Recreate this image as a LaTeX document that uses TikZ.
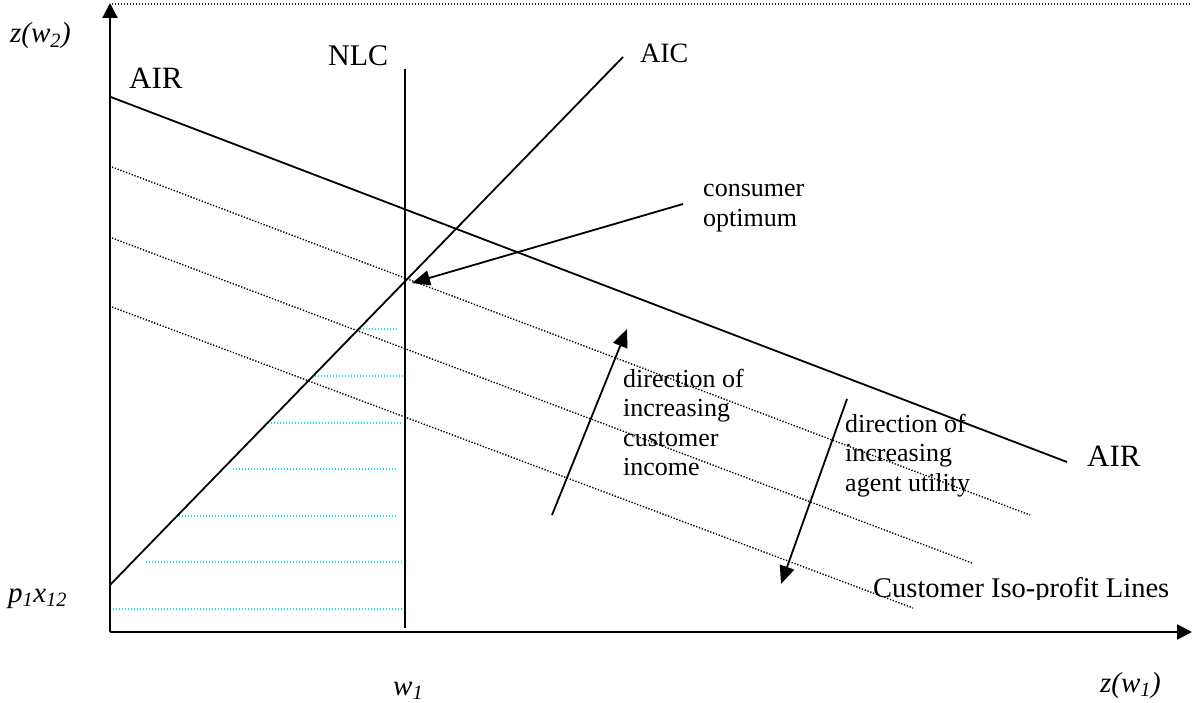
\documentclass[tikz,border=0pt]{standalone}
\usepackage{fontspec}
\setmainfont{Liberation Serif}
\usetikzlibrary{arrows.meta}
\definecolor{hatchcyan}{RGB}{0,235,245}
\begin{document}
\begin{tikzpicture}[x=1pt,y=-1pt,
  line/.style={line width=1.8pt},
  axis/.style={line width=2pt, -{Triangle[length=15pt,width=15pt]}},
  iso/.style={line width=1.4pt, dash pattern=on 1.3pt off 1.7pt},
  topdot/.style={line width=1.2pt, black!85, dash pattern=on 1.1pt off 1.9pt},
  hatch/.style={hatchcyan, line width=1.5pt, dash pattern=on 1.4pt off 1.6pt},
  arr/.style={line width=1.8pt, -{Triangle[length=18pt,width=15pt]}},
  small/.style={font=\fontsize{26}{29.5}\selectfont, inner sep=0pt, align=left, anchor=base west},
  big/.style={font=\fontsize{30}{34}\selectfont, inner sep=0pt, anchor=base west},
  axl/.style={font=\fontsize{29}{33}\selectfont\itshape, inner sep=0pt, anchor=base west}]
\useasboundingbox (0,0) rectangle (1192,703);

% axes
\coordinate (O) at (110,632);
\coordinate (Ytop) at (110,3);
\coordinate (Xend) at (1192,632);
\coordinate (T1) at (112,4);
\coordinate (T2) at (1192,4);
\draw[topdot] (T1) -- (T2);
\draw[axis] (O) -- (Ytop);
\draw[axis] (O) -- (Xend);

% hatch (cyan dotted)
\foreach \y/\xa/\xb in {329/360/397, 376/315/403, 423/271/403, 469/233/396, 516/176/398, 562/146/403, 609/113/403}{
  \coordinate (ha) at (\xa,\y);
  \coordinate (hb) at (\xb,\y);
  \draw[hatch] (ha) -- (hb);
}

% iso-profit lines
\coordinate (I1a) at (112,167); \coordinate (I1b) at (1030,515);
\coordinate (I2a) at (112,238); \coordinate (I2b) at (972,563);
\coordinate (I3a) at (112,307); \coordinate (I3b) at (913,608);
\draw[iso] (I1a) -- (I1b);
\draw[iso] (I2a) -- (I2b);
\draw[iso] (I3a) -- (I3b);

% NLC, AIC, AIR
\coordinate (N1) at (405,69); \coordinate (N2) at (405,628);
\coordinate (A1) at (110,585); \coordinate (A2) at (623,57);
\coordinate (R1) at (110,96.7); \coordinate (R2) at (1067,462);
\draw[line] (N1) -- (N2);
\draw[line] (A1) -- (A2);
\draw[line] (R1) -- (R2);

% labels
\node[big, font=\fontsize{31}{34}\selectfont] (airL) at (129,89) {AIR};
\node[big] (nlc) at (328,66) {NLC};
\begin{scope}
  \clip (600,30) rectangle (720,63.5);
  \node[big, font=\fontsize{28}{33}\selectfont] (aic) at (640,63) {AIC};
\end{scope}
\node[big, font=\fontsize{31}{34}\selectfont] (airR) at (1087,466) {AIR};
\begin{scope}
  \clip (860,560) rectangle (1192,599);
  \node[big, font=\fontsize{28.5}{33}\selectfont] (cil) at (873,597) {Customer Iso-profit Lines};
\end{scope}
\node[small] (cons) at (703,226.5) {consumer\\optimum};
\node[small] (inc) at (623,475.5) {direction of\\increasing\\customer\\income};
\node[small] (agt) at (845,491) {direction of\\increasing\\agent utility};

\node[axl] (zw2) at (10,43) {z(w\textsubscript{2})};
\node[axl] (px) at (8,602) {p\textsubscript{1}x\textsubscript{12}};
\node[axl] (w1) at (393,695) {w\textsubscript{1}};
\node[axl] (zw1) at (1100,692) {z(w\textsubscript{1})};

% arrows
\coordinate (consT) at (683,204); \coordinate (opt) at (412,283);
\coordinate (incT) at (552,515); \coordinate (incH) at (627,329);
\coordinate (agtT) at (847,399); \coordinate (agtH) at (781,584);
\draw[arr] (consT) -- (opt);
\draw[arr] (incT) -- (incH);
\draw[arr] (agtT) -- (agtH);
\end{tikzpicture}
\end{document}
